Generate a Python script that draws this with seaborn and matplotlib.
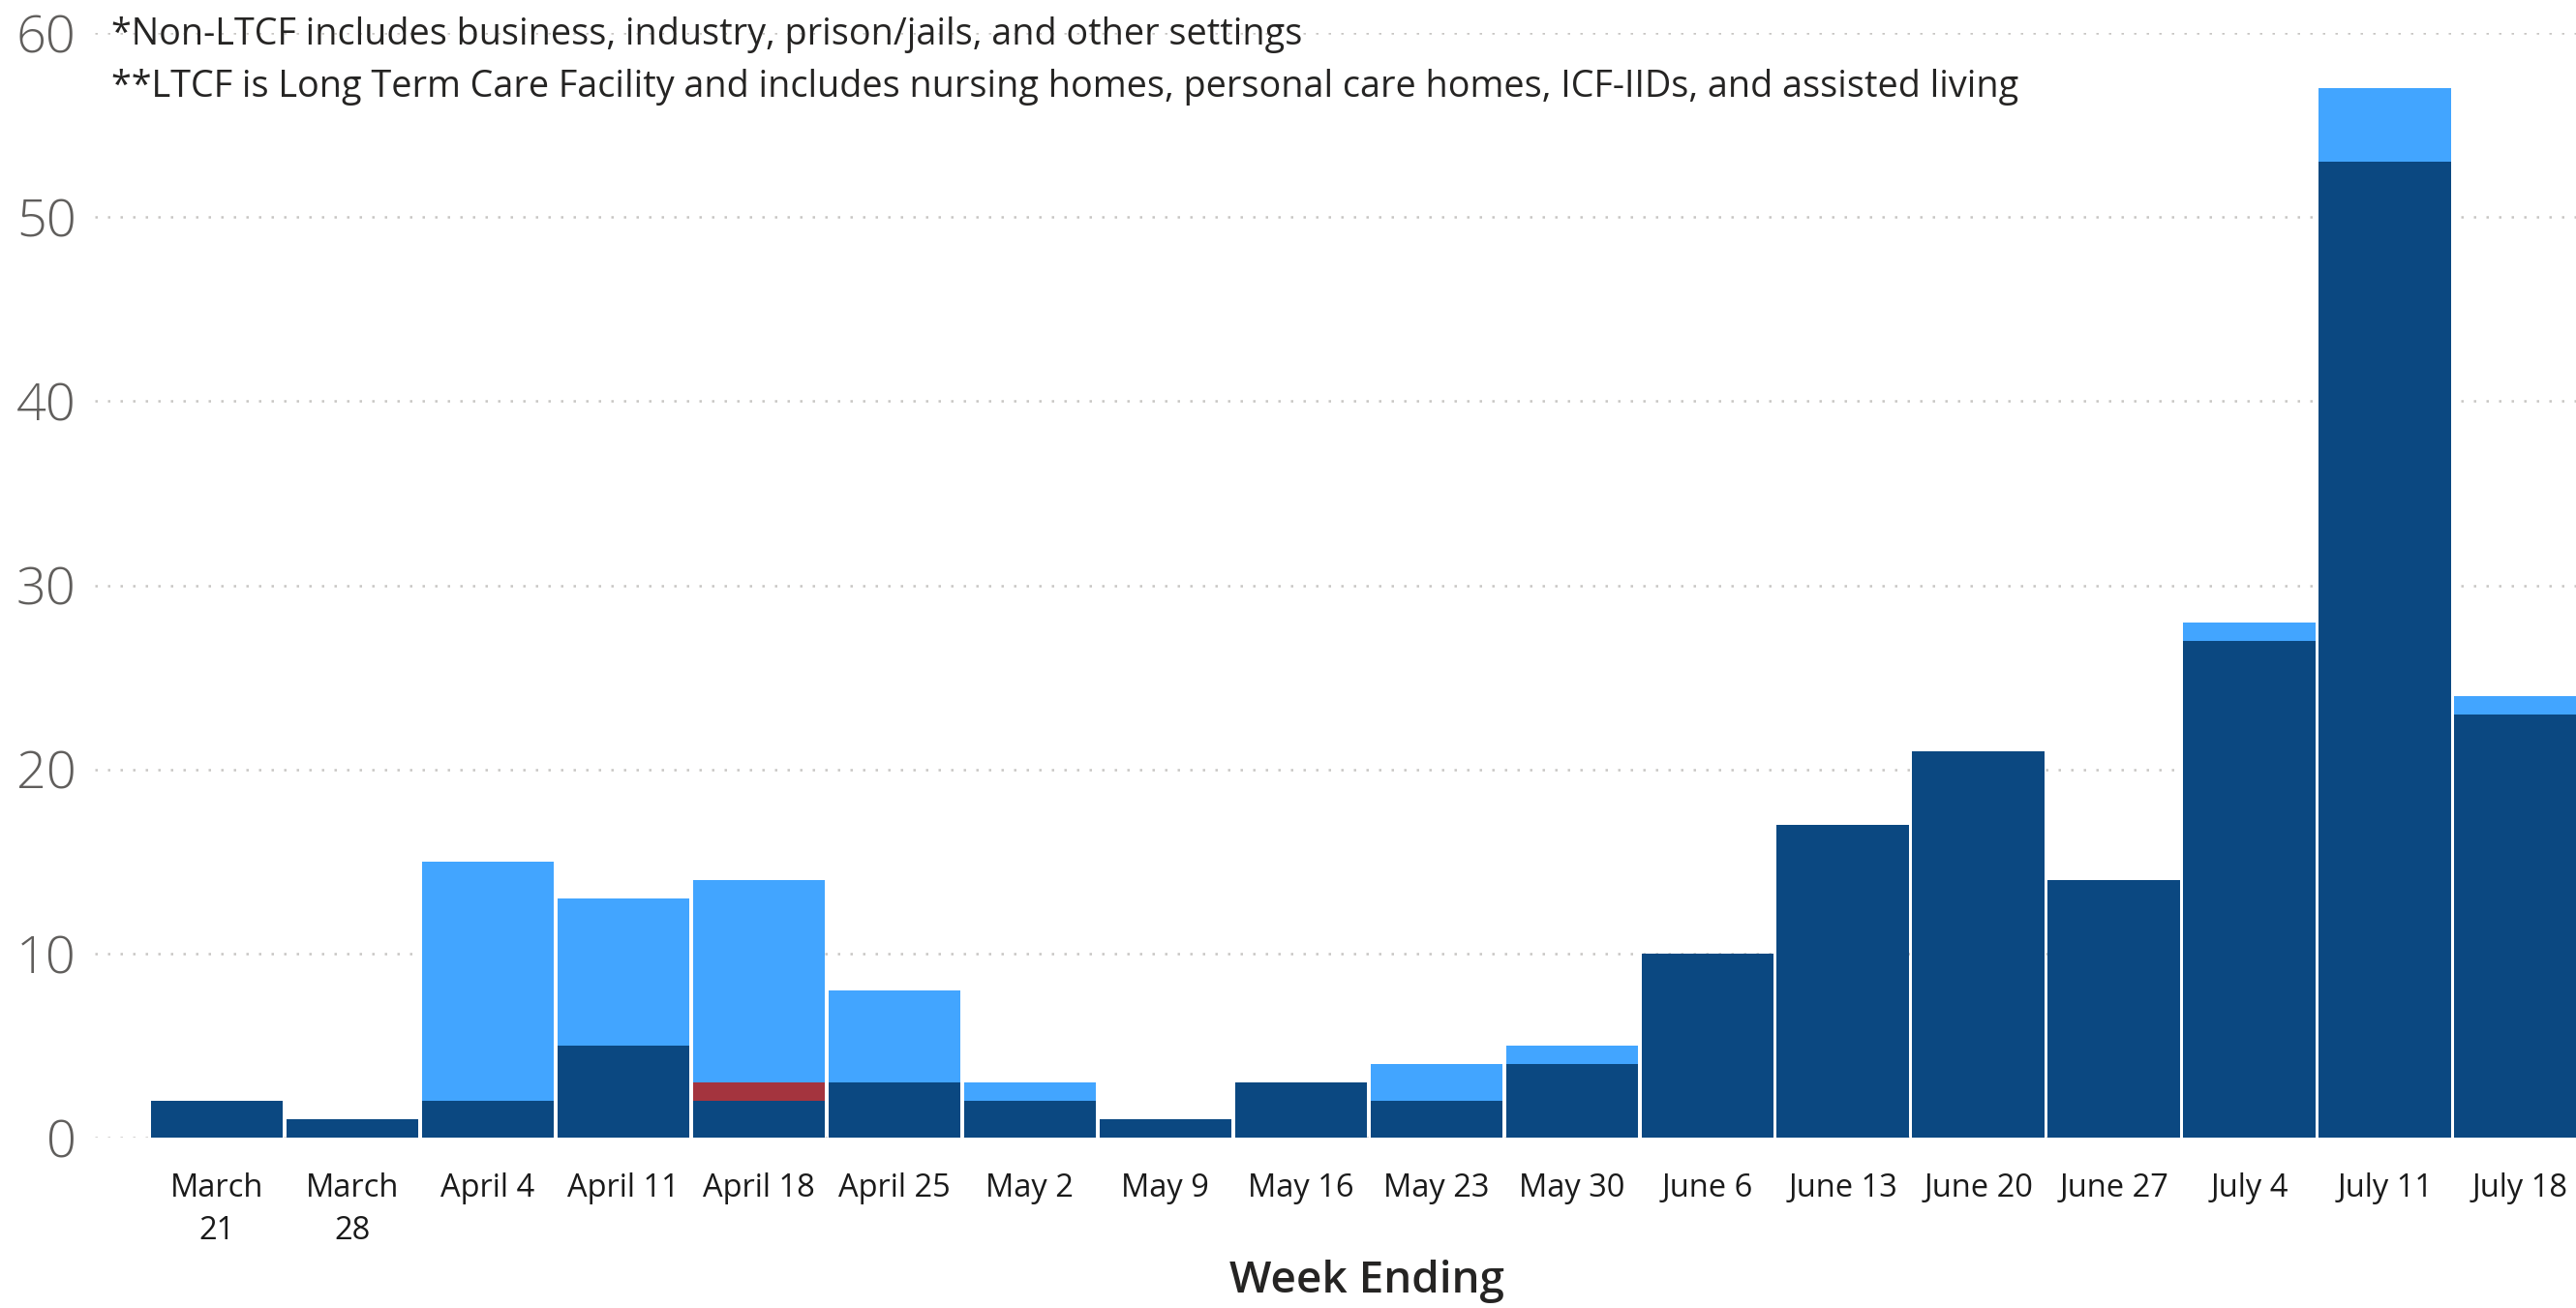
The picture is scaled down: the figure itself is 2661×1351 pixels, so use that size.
import pandas as pd
import numpy as np
import matplotlib.pyplot as plt
import seaborn as sns

# Weekly counts
weeks = ["March\n21", "March\n28", "April 4", "April 11", "April 18", "April 25",
         "May 2", "May 9", "May 16", "May 23", "May 30", "June 6", "June 13",
         "June 20", "June 27", "July 4", "July 11", "July 18"]
ltcf = [2, 1, 2, 5, 2, 3, 2, 1, 3, 2, 4, 10, 17, 21, 14, 27, 53, 23]
other = [0, 0, 0, 0, 1, 0, 0, 0, 0, 0, 0, 0, 0, 0, 0, 0, 0, 0]
non_ltcf = [0, 0, 13, 8, 11, 5, 1, 0, 0, 2, 1, 0, 0, 0, 0, 1, 4, 1]

notes = ["*Non-LTCF includes business, industry, prison/jails, and other settings",
         "**LTCF is Long Term Care Facility and includes nursing homes, personal care homes, ICF-IIDs, and assisted living"]

df = pd.DataFrame({"week": weeks, "ltcf": ltcf, "other": other, "non_ltcf": non_ltcf})
df["mid"] = df["ltcf"] + df["other"]
df["total"] = df["mid"] + df["non_ltcf"]

sns.set_theme(style="white")
plt.rcParams["font.family"] = ["Open Sans", "DejaVu Sans"]

dark = "#0B4881"
light = "#42A5FF"
red = "#A4343E"

fig = plt.figure(figsize=(26.61, 13.51), dpi=100)
ax = fig.add_axes([98 / 2661, 1 - 1175 / 1351, 1 - 98 / 2661, (1175 - 34) / 1351])

# stacked bars drawn as overlapping cumulative totals
bar_kw = dict(saturation=1, width=0.975, errorbar=None, ax=ax, zorder=3)
sns.barplot(data=df, x="week", y="total", color=light, **bar_kw)
sns.barplot(data=df, x="week", y="mid", color=red, **bar_kw)
sns.barplot(data=df, x="week", y="ltcf", color=dark, **bar_kw)
for p in ax.patches:
    p.set_edgecolor(p.get_facecolor())
    p.set_linewidth(0)

ax.set_xlim(-0.90, 17.41)
ax.set_ylim(0, 60)
ax.set_yticks(range(0, 61, 10))
ax.yaxis.grid(True, color="#C8C6C4", linewidth=1.8, linestyle=(0, (1, 4.2)), zorder=0)
ax.xaxis.grid(False)
sns.despine(ax=ax, left=True, bottom=True)

ax.tick_params(axis="y", length=0, pad=14, labelsize=39, labelcolor="#605E5C")
ax.tick_params(axis="x", length=0, pad=26, labelsize=23.5, labelcolor="#1a1a1a")
for lab in ax.get_xticklabels():
    lab.set_linespacing(1.45)
    lab.set_verticalalignment("top")
for lab in ax.get_yticklabels():
    lab.set_fontweight("light")

ax.set_ylabel("")
ax.set_xlabel("Week Ending", fontsize=33, color="#252423", fontweight="semibold", va="center")
ax.xaxis.set_label_coords((1412 - 98) / 2563, (1175 - 1324) / 1141)

fig.text(115 / 2661, 1 - 36 / 1351, notes[0], fontsize=27.2, color="#252423", va="center", ha="left")
fig.text(115 / 2661, 1 - 90 / 1351, notes[1], fontsize=27.2, color="#252423", va="center", ha="left")

plt.savefig("out.png", dpi=100)
